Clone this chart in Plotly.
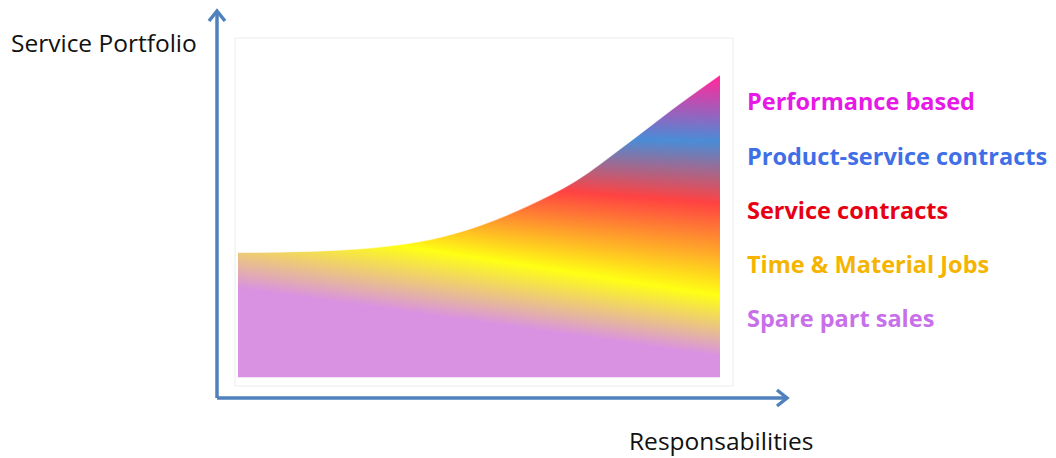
import numpy as np
import plotly.graph_objects as go

# ---- data -------------------------------------------------------------
# Portfolio envelope: responsibility (0-100) -> service portfolio height (0-100)
resp = [0, 10, 20, 30, 40, 50, 60, 70, 80, 90, 100]
portfolio = [41.2, 41.4, 41.9, 43.1, 45.5, 50.0, 56.5, 64.8, 76.3, 88.5, 100.0]

# Service layers, bottom to top, with the colour of each layer in the fill
services = ["Spare part sales", "Time & Material Jobs", "Service contracts",
            "Product-service contracts", "Performance based"]
label_colors = ["#c870ea", "#f4b400", "#e60012", "#3f6fe6", "#e619e6"]
band_colors = ["#d992e1", "#ffff14", "#ff4242", "#4a8cd6", "#ff2a9c"]
# centre height of every layer at the low (0) and high (100) responsibility end
band_start = [29.5, 52.0, 70.0, 82.0, 102.0]
band_end = [7.0, 27.0, 57.5, 78.0, 99.0]

x_title = "Responsabilities"
y_title = "Service Portfolio"

# ---- pixel <-> data helpers (figure is 1056 x 458, no margins) ---------
W, H = 1056, 458
X0PX, XSC = 238.0, 4.82      # pixel of x=0, pixels per unit
Y0PX, YSC = 377.0, 3.02      # pixel of y=0, pixels per unit


def dx(p):
    return (p - X0PX) / XSC


def dy(p):
    return (Y0PX - p) / YSC


# ---- gradient field ---------------------------------------------------
step = 0.25
gx = np.arange(step / 2, 100, step)
gy = np.arange(step / 2, 100 + step, step)
nb = len(services)
z = np.empty((len(gy), len(gx)))
for j, xv in enumerate(gx):
    f = xv / 100.0
    centres = [a + (b - a) * f for a, b in zip(band_start, band_end)]
    z[:, j] = np.interp(gy, centres, np.arange(nb))
colorscale = [[k / (nb - 1), c] for k, c in enumerate(band_colors)]

fig = go.Figure()
fig.add_trace(go.Heatmap(x=gx, y=gy, z=z, colorscale=colorscale, zmin=0,
                         zmax=nb - 1, showscale=False, hoverinfo="skip"))

# white cover above the envelope curve
top = dy(45)
fig.add_trace(go.Scatter(x=resp, y=[top] * len(resp), mode="lines",
                         line=dict(width=0.5, color="white"), hoverinfo="skip",
                         showlegend=False))
fig.add_trace(go.Scatter(x=resp, y=portfolio, mode="lines",
                         line=dict(width=0.5, color="white", shape="spline",
                                   smoothing=1.0),
                         fill="tonexty", fillcolor="white", hoverinfo="skip",
                         showlegend=False))

# faint frame around the picture
fig.add_shape(type="rect", x0=dx(235), x1=dx(733), y0=dy(386), y1=dy(38),
              line=dict(color="#ececec", width=1), layer="above")

# ---- axes drawn as arrows ---------------------------------------------
blue = "#4f81bd"
ax_x, ax_y = dx(217), dy(398)
tip_y, tip_x = dy(11), dx(787)
lw = 3.5
fig.add_shape(type="line", x0=ax_x, y0=ax_y, x1=ax_x, y1=tip_y,
              line=dict(color=blue, width=lw))
fig.add_shape(type="line", x0=ax_x, y0=ax_y, x1=tip_x, y1=ax_y,
              line=dict(color=blue, width=lw))
fig.add_shape(type="path",
              path=f"M {dx(209)},{dy(21)} L {ax_x},{tip_y} L {dx(225)},{dy(21)}",
              line=dict(color=blue, width=lw))
fig.add_shape(type="path",
              path=f"M {dx(777)},{dy(390)} L {tip_x},{ax_y} L {dx(777)},{dy(406)}",
              line=dict(color=blue, width=lw))

# ---- text -------------------------------------------------------------
fig.add_annotation(x=dx(9), y=dy(42), text=y_title, showarrow=False,
                   xanchor="left", yanchor="middle",
                   font=dict(family="Open Sans", size=24.5, color="#111111"))
fig.add_annotation(x=dx(627), y=dy(440), text=x_title, showarrow=False,
                   xanchor="left", yanchor="middle",
                   font=dict(family="Open Sans", size=24.5, color="#111111"))

label_y = [318, 264, 210, 156, 101]
for name, col, py in zip(services, label_colors, label_y):
    fig.add_annotation(x=dx(745), y=dy(py), text=f"<b>{name}</b>",
                       showarrow=False, xanchor="left", yanchor="middle",
                       font=dict(family="Open Sans", size=23.5, color=col))

fig.update_layout(
    width=W, height=H, autosize=False,
    margin=dict(l=0, r=0, t=0, b=0),
    paper_bgcolor="white", plot_bgcolor="white",
    xaxis=dict(range=[dx(0), dx(W)], visible=False, fixedrange=True),
    yaxis=dict(range=[dy(H), dy(0)], visible=False, fixedrange=True),
    showlegend=False,
)

fig.write_html("out.html")
